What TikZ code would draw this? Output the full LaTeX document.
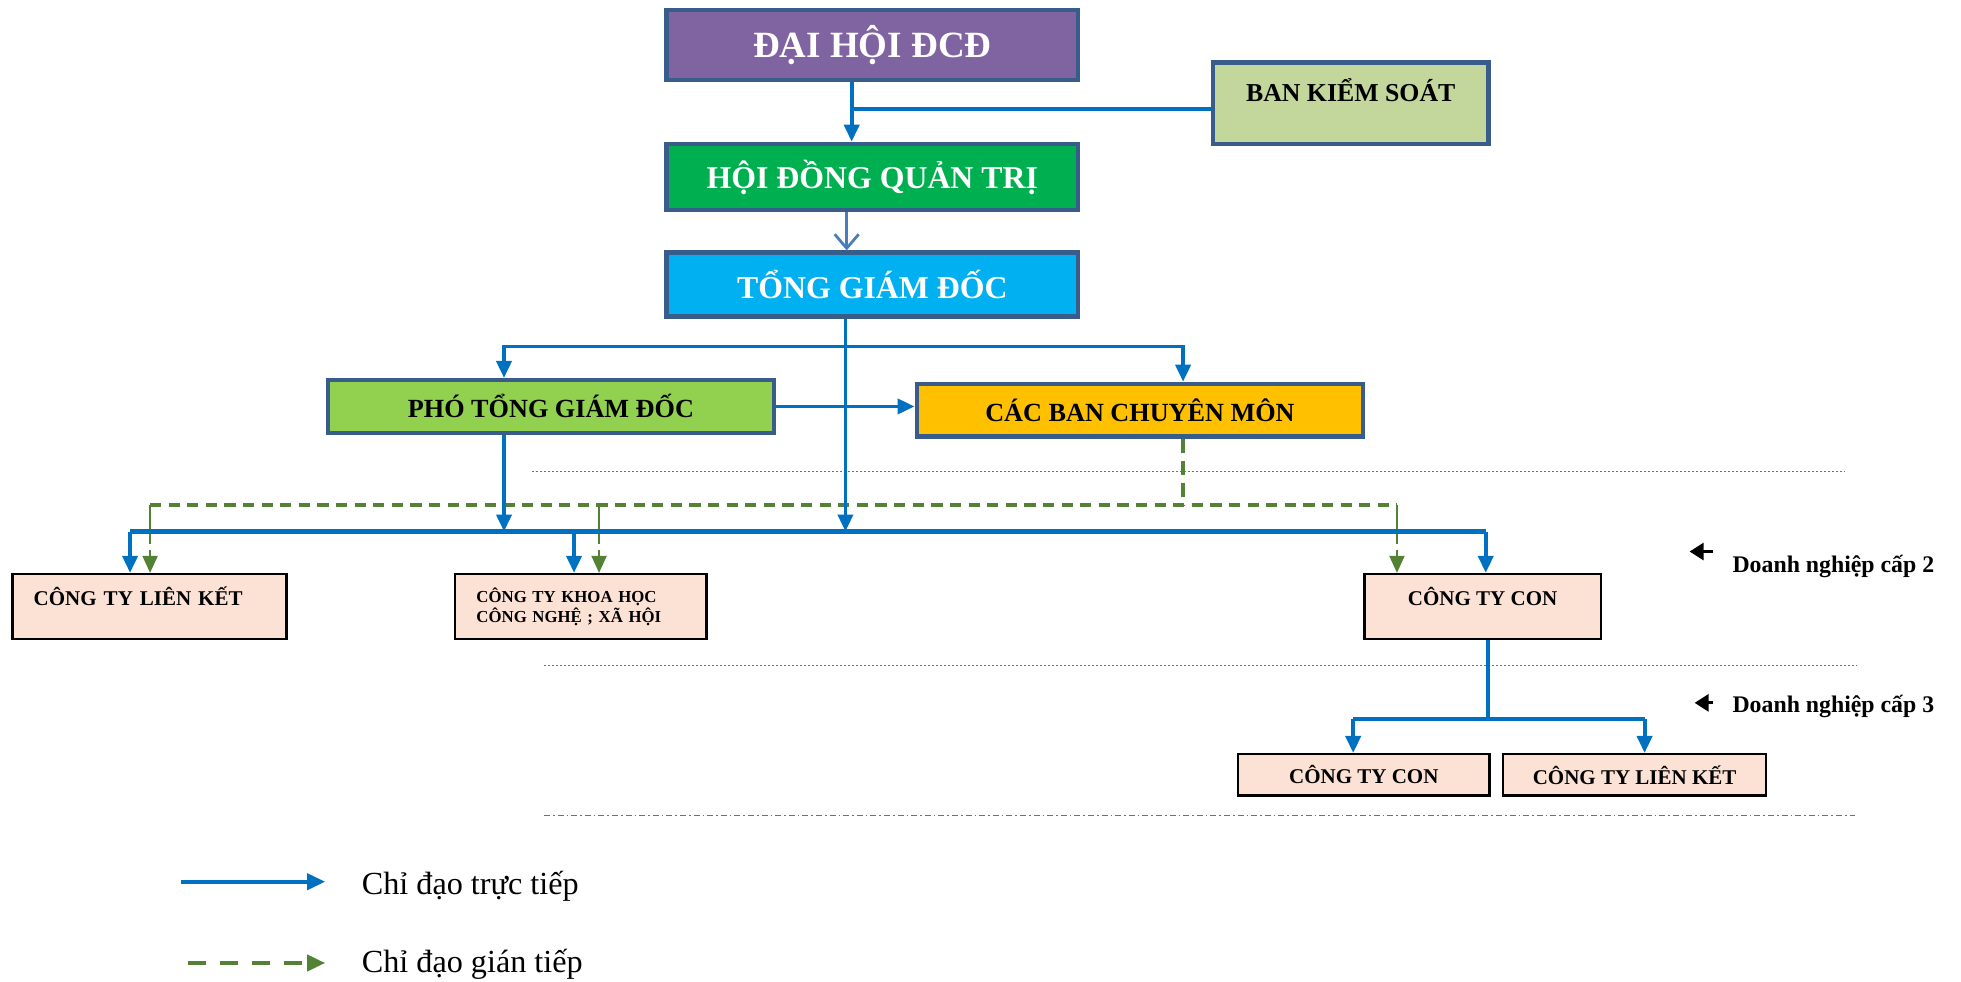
\documentclass[tikz,border=0pt]{standalone}
\usepackage{fontspec}
\setmainfont{Liberation Serif}
\usetikzlibrary{arrows.meta}
\definecolor{purpleF}{HTML}{8064A2}
\definecolor{tborder}{HTML}{385D8A}
\definecolor{oliveF}{HTML}{C3D69B}
\definecolor{hgreen}{HTML}{00B050}
\definecolor{cyanF}{HTML}{00B0F0}
\definecolor{lgreen}{HTML}{92D050}
\definecolor{amber}{HTML}{FFC000}
\definecolor{peach}{HTML}{FBE2D5}
\definecolor{lblue}{HTML}{0070C0}
\definecolor{sblue}{HTML}{4A7EBB}
\definecolor{dgreen}{HTML}{548235}
\definecolor{sepgreen}{HTML}{00B050}
\tikzset{
  tbox/.style={draw=tborder, line width=2.2pt, inner sep=0pt, align=center},
  cbox/.style={draw=black, line width=1.2pt, fill=peach, inner sep=0pt},
  bline/.style={draw=lblue, line width=1.9pt},
  barrow/.style={bline, -{Triangle[length=8.5pt,width=7.5pt]}},
  gdash/.style={draw=dgreen, line width=2pt, dash pattern=on 5.6pt off 3.7pt},
  garrow/.style={draw=dgreen, line width=1pt, -{Triangle[length=8.5pt,width=7.5pt]}},
  sepline/.style={draw=sepgreen, line width=0.6pt, dash pattern=on 1.2pt off 0.8pt},
  fA/.style={font=\fontsize{18.5}{21}\selectfont\bfseries},
  fB/.style={font=\fontsize{15.9}{18}\selectfont\bfseries},
  fC/.style={font=\fontsize{13.1}{15}\selectfont\bfseries},
  fD/.style={font=\fontsize{10.5}{12}\selectfont\bfseries},
  fE/.style={font=\fontsize{8.4}{10}\selectfont\bfseries},
  fL/.style={font=\fontsize{16.1}{18}\selectfont},
}
\begin{document}
\begin{tikzpicture}[x={(0.6253pt,0pt)}, y={(0pt,-0.6253pt)}]
\path[use as bounding box, fill=white] (0,0) rectangle (1568,785);

% separators
\draw[sepline] (425,377) -- (1475,377);
\draw[sepline] (435,532) -- (1485,532);
\draw[sepline, dash pattern=on 3pt off 1.5pt on 0.8pt off 1.5pt] (435,652) -- (1483,652);

% boxes
\node[tbox, fill=purpleF, text=white, fA, minimum width=205.7pt, minimum height=35pt] (dhd) at (697.5,36) {ĐẠI HỘI ĐCĐ};
\node[tbox, fill=oliveF, font=\fontsize{12.9}{15}\selectfont\bfseries, minimum width=137.6pt, text height=19.4pt, text depth=21.2pt] (bks) at (1080,82.5) {BAN KIỂM SOÁT};
\node[tbox, fill=hgreen, text=white, fB, minimum width=205.7pt, minimum height=33.1pt] (hdqt) at (697.5,141.5) {HỘI ĐỒNG QUẢN TRỊ};
\node[tbox, fill=cyanF, text=white, fB, minimum width=205.7pt, minimum height=31.9pt] (tgd) at (697.5,227.5) {TỔNG GIÁM ĐỐC};
\node[tbox, fill=lgreen, fC, minimum width=223.2pt, minimum height=26.3pt] (ptgd) at (440.5,325) {PHÓ TỔNG GIÁM ĐỐC};
\node[tbox, fill=amber, fC, minimum width=223.2pt, minimum height=26.3pt] (cbcm) at (911.5,328) {CÁC BAN CHUYÊN MÔN};

\node[cbox, fD, inner xsep=10.6pt, text width=115.7pt, align=left, text height=15.6pt, text depth=16.9pt] (ctlk) at (119.5,485) {CÔNG TY LIÊN KẾT};
\node[cbox, fE, inner xsep=10.6pt, text width=104.5pt, align=left, minimum height=32.5pt] (ctkh) at (464.5,485) {CÔNG TY KHOA HỌC\\CÔNG NGHỆ ; XÃ HỘI};
\node[cbox, fD, minimum width=118.2pt, text height=15.6pt, text depth=16.9pt] (ctcon) at (1185.5,485) {CÔNG TY CON};
\node[cbox, fD, minimum width=125.7pt, minimum height=20.6pt] (ctcon3) at (1090.5,619.5) {CÔNG TY CON};
\node[cbox, fD, minimum width=131.3pt, minimum height=20.6pt] (ctlk3) at (1307,619.5) {CÔNG TY LIÊN KẾT};

% level labels
\node[anchor=west, font=\fontsize{11.9}{13}\selectfont\bfseries, inner sep=0pt] (dn2) at (1385,453) {Doanh nghiệp cấp 2};
\node[anchor=west, font=\fontsize{11.9}{13}\selectfont\bfseries, inner sep=0pt] (dn3) at (1385,565) {Doanh nghiệp cấp 3};
\coordinate (a2s) at (1370,441);
\coordinate (a2e) at (1351,441);
\coordinate (a3s) at (1370,562);
\coordinate (a3e) at (1355,562);
\draw[line width=1.4pt, -{Triangle[length=7pt,width=8.5pt]}] (a2s) -- (a2e);
\draw[line width=1.4pt, -{Triangle[length=7pt,width=8.5pt]}] (a3s) -- (a3e);

% top connectors
\coordinate (x681) at (681,0);
\coordinate (x677) at (677,0);
\coordinate (x676) at (676,0);
\coordinate (x403) at (403,0);
\coordinate (x946) at (946,0);
\coordinate (x459) at (459,0);
\coordinate (j1) at (681,87);
\coordinate (j2) at (676,277);
\draw[barrow] (dhd.south -| x681) -- (hdqt.north -| x681);
\draw[bline] (j1) -- (j1 -| bks.west);
\draw[draw=sblue, line width=1.4pt, -{Straight Barb[length=7pt,width=12pt]}] (hdqt.south -| x677) -- (tgd.north -| x677);
\draw[barrow] (j2) -| (ptgd.north -| x403);
\draw[barrow] (j2) -| (cbcm.north -| x946);
\draw[barrow] (ptgd.east) -- (ptgd.east -| cbcm.west);

% green indirect
\coordinate (g1) at (120,404);
\coordinate (g2) at (479,404);
\coordinate (g3) at (1117,404);
\coordinate (g1b) at (120,433);
\coordinate (g2b) at (479,433);
\coordinate (g3b) at (1117,433);
\draw[gdash, dash pattern=on 7pt off 4pt] (cbcm.south -| x946) -- (x946 |- g1);
\draw[gdash] (g1) -- (g3);
\draw[draw=dgreen, line width=1pt] (g1) -- ([yshift=-1pt]g1b);
\draw[draw=dgreen, line width=1pt] (g2) -- ([yshift=-1pt]g2b);
\draw[draw=dgreen, line width=1pt] (g3) -- ([yshift=-1pt]g3b);
\draw[garrow] ([yshift=-4pt]g1b) -- (ctlk.north -| g1b);
\draw[garrow] ([yshift=-4pt]g2b) -- (ctkh.north -| g2b);
\draw[garrow] ([yshift=-4pt]g3b) -- (ctcon.north -| g3b);

% blue bus
\coordinate (bL) at (104,425);
\coordinate (bR) at (1188,425);
\draw[barrow] (tgd.south -| x676) -- (x676 |- bL);
\draw[barrow] (ptgd.south -| x403) -- (x403 |- bL);
\draw[bline, line width=2.4pt] (bL) -- (bR);
\draw[barrow] (bL) -- (ctlk.north -| bL);
\draw[barrow] (x459 |- bL) -- (ctkh.north -| x459);
\draw[barrow] (bR) -- (ctcon.north -| bR);

% level 3
\coordinate (k) at (1190,575);
\coordinate (kL) at (1082,575);
\coordinate (kR) at (1315,575);
\draw[bline] (ctcon.south -| k) -- (k);
\draw[bline, line width=2.3pt] (kL) -- (kR);
\draw[barrow] (kL) -- (ctcon3.north -| kL);
\draw[barrow] (kR) -- (ctlk3.north -| kR);

% legend
\coordinate (l1s) at (145,705);
\coordinate (l1e) at (260,705);
\coordinate (l2s) at (150,770);
\coordinate (l2e) at (260,770);
\draw[barrow, -{Triangle[length=9pt,width=8pt]}] (l1s) -- (l1e);
\draw[draw=dgreen, line width=2pt, dash pattern=on 9pt off 7pt, -{Triangle[length=9pt,width=8pt]}] (l2s) -- (l2e);
\node[anchor=west, fL, inner sep=0pt] (lg1) at (289,709) {Chỉ đạo trực tiếp};
\node[anchor=west, fL, inner sep=0pt] (lg2) at (289,771) {Chỉ đạo gián tiếp};
\end{tikzpicture}
\end{document}
